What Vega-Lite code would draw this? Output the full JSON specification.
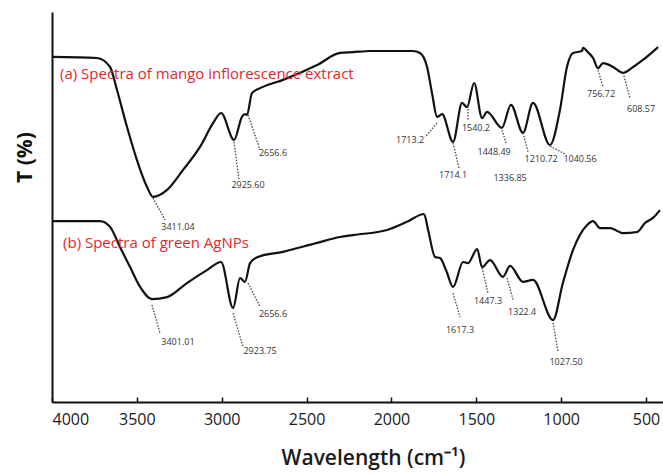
{
  "$schema": "https://vega.github.io/schema/vega-lite/v6.json",
  "width": 611,
  "height": 390,
  "autosize": {"type": "none"},
  "padding": {"left": 52, "top": 12, "right": 0, "bottom": 73},
  "background": "white",
  "config": {"view": {"stroke": null}, "font": "Open Sans"},
  "datasets": {
    "spectra": [
      {"series": "a", "w": 4000, "T": 88.5}, {"series": "a", "w": 3735, "T": 88.2}, {"series": "a", "w": 3658, "T": 85.9}, {"series": "a", "w": 3617, "T": 80.0}, {"series": "a", "w": 3558, "T": 70.5}, {"series": "a", "w": 3500, "T": 62.1}, {"series": "a", "w": 3440, "T": 55.1}, {"series": "a", "w": 3405, "T": 52.6}, {"series": "a", "w": 3322, "T": 54.4}, {"series": "a", "w": 3228, "T": 59.5}, {"series": "a", "w": 3128, "T": 65.4}, {"series": "a", "w": 3051, "T": 71.5}, {"series": "a", "w": 3004, "T": 74.1}, {"series": "a", "w": 2927, "T": 67.2}, {"series": "a", "w": 2881, "T": 73.1}, {"series": "a", "w": 2863, "T": 73.8}, {"series": "a", "w": 2851, "T": 73.6}, {"series": "a", "w": 2822, "T": 79.2}, {"series": "a", "w": 2757, "T": 80.8}, {"series": "a", "w": 2639, "T": 82.6}, {"series": "a", "w": 2438, "T": 86.4}, {"series": "a", "w": 2303, "T": 89.5}, {"series": "a", "w": 2226, "T": 89.7}, {"series": "a", "w": 2126, "T": 90.0}, {"series": "a", "w": 1873, "T": 90.0}, {"series": "a", "w": 1832, "T": 89.5}, {"series": "a", "w": 1790, "T": 85.9}, {"series": "a", "w": 1761, "T": 79.2}, {"series": "a", "w": 1731, "T": 73.1}, {"series": "a", "w": 1702, "T": 73.8}, {"series": "a", "w": 1637, "T": 66.7}, {"series": "a", "w": 1584, "T": 76.7}, {"series": "a", "w": 1555, "T": 75.6}, {"series": "a", "w": 1513, "T": 81.8}, {"series": "a", "w": 1466, "T": 72.8}, {"series": "a", "w": 1437, "T": 74.4}, {"series": "a", "w": 1349, "T": 70.3}, {"series": "a", "w": 1296, "T": 76.2}, {"series": "a", "w": 1225, "T": 69.0}, {"series": "a", "w": 1166, "T": 76.7}, {"series": "a", "w": 1066, "T": 65.9}, {"series": "a", "w": 1007, "T": 74.9}, {"series": "a", "w": 966, "T": 85.9}, {"series": "a", "w": 930, "T": 89.5}, {"series": "a", "w": 877, "T": 90.0}, {"series": "a", "w": 871, "T": 90.8}, {"series": "a", "w": 842, "T": 89.7}, {"series": "a", "w": 812, "T": 88.2}, {"series": "a", "w": 783, "T": 85.6}, {"series": "a", "w": 753, "T": 86.9}, {"series": "a", "w": 694, "T": 85.9}, {"series": "a", "w": 635, "T": 84.4}, {"series": "a", "w": 576, "T": 85.9}, {"series": "a", "w": 518, "T": 87.7}, {"series": "a", "w": 429, "T": 91.0},
      {"series": "b", "w": 4000, "T": 46.4}, {"series": "b", "w": 3717, "T": 46.4}, {"series": "b", "w": 3658, "T": 44.9}, {"series": "b", "w": 3599, "T": 39.7}, {"series": "b", "w": 3540, "T": 34.6}, {"series": "b", "w": 3481, "T": 29.5}, {"series": "b", "w": 3411, "T": 26.4}, {"series": "b", "w": 3322, "T": 26.9}, {"series": "b", "w": 3205, "T": 30.5}, {"series": "b", "w": 3087, "T": 33.8}, {"series": "b", "w": 3004, "T": 35.9}, {"series": "b", "w": 2933, "T": 24.1}, {"series": "b", "w": 2892, "T": 31.8}, {"series": "b", "w": 2863, "T": 30.8}, {"series": "b", "w": 2833, "T": 35.6}, {"series": "b", "w": 2786, "T": 37.2}, {"series": "b", "w": 2639, "T": 38.5}, {"series": "b", "w": 2438, "T": 40.8}, {"series": "b", "w": 2303, "T": 42.3}, {"series": "b", "w": 2226, "T": 42.8}, {"series": "b", "w": 2026, "T": 44.1}, {"series": "b", "w": 1908, "T": 46.2}, {"series": "b", "w": 1808, "T": 48.2}, {"series": "b", "w": 1784, "T": 44.1}, {"series": "b", "w": 1743, "T": 37.2}, {"series": "b", "w": 1714, "T": 36.9}, {"series": "b", "w": 1678, "T": 33.8}, {"series": "b", "w": 1637, "T": 29.5}, {"series": "b", "w": 1578, "T": 35.9}, {"series": "b", "w": 1549, "T": 35.6}, {"series": "b", "w": 1495, "T": 39.2}, {"series": "b", "w": 1466, "T": 34.6}, {"series": "b", "w": 1419, "T": 36.4}, {"series": "b", "w": 1343, "T": 32.1}, {"series": "b", "w": 1301, "T": 34.9}, {"series": "b", "w": 1225, "T": 30.8}, {"series": "b", "w": 1166, "T": 31.3}, {"series": "b", "w": 1048, "T": 21.0}, {"series": "b", "w": 990, "T": 30.5}, {"series": "b", "w": 930, "T": 39.0}, {"series": "b", "w": 847, "T": 45.4}, {"series": "b", "w": 812, "T": 46.4}, {"series": "b", "w": 771, "T": 44.6}, {"series": "b", "w": 712, "T": 44.6}, {"series": "b", "w": 635, "T": 43.3}, {"series": "b", "w": 553, "T": 43.6}, {"series": "b", "w": 506, "T": 45.9}, {"series": "b", "w": 459, "T": 47.2}, {"series": "b", "w": 418, "T": 49.2}
    ],
    "peaks": [
      {"label": "3411.04", "w": 3258, "T": 44.9},
      {"label": "2925.60", "w": 2845, "T": 55.6},
      {"label": "2656.6", "w": 2698, "T": 63.8},
      {"label": "1713.2", "w": 1890, "T": 67.2},
      {"label": "1714.1", "w": 1637, "T": 58.2},
      {"label": "1540.2", "w": 1502, "T": 70.3},
      {"label": "1448.49", "w": 1395, "T": 64.1},
      {"label": "1336.85", "w": 1301, "T": 57.4},
      {"label": "1210.72", "w": 1118, "T": 62.3},
      {"label": "1040.56", "w": 889, "T": 62.3},
      {"label": "756.72", "w": 765, "T": 79.0},
      {"label": "608.57", "w": 529, "T": 75.1},
      {"label": "3401.01", "w": 3258, "T": 15.4},
      {"label": "2923.75", "w": 2774, "T": 13.1},
      {"label": "2656.6", "w": 2698, "T": 22.6},
      {"label": "1617.3", "w": 1596, "T": 18.5},
      {"label": "1447.3", "w": 1431, "T": 25.9},
      {"label": "1322.4", "w": 1230, "T": 23.1},
      {"label": "1027.50", "w": 971, "T": 10.3}
    ],
    "leaders": [
      {"w1": 3405, "T1": 52.3, "w2": 3334, "T2": 46.7},
      {"w1": 2928, "T1": 66.7, "w2": 2898, "T2": 56.9},
      {"w1": 2845, "T1": 73.6, "w2": 2774, "T2": 64.6},
      {"w1": 1731, "T1": 71.5, "w2": 1802, "T2": 67.9},
      {"w1": 1637, "T1": 66.4, "w2": 1602, "T2": 60.0},
      {"w1": 1549, "T1": 75.9, "w2": 1549, "T2": 72.3},
      {"w1": 1348, "T1": 69.7, "w2": 1325, "T2": 66.4},
      {"w1": 1225, "T1": 69.0, "w2": 1195, "T2": 64.1},
      {"w1": 1065, "T1": 65.6, "w2": 977, "T2": 63.6},
      {"w1": 783, "T1": 85.1, "w2": 753, "T2": 80.8},
      {"w1": 635, "T1": 84.4, "w2": 594, "T2": 77.9},
      {"w1": 3411, "T1": 24.9, "w2": 3364, "T2": 17.7},
      {"w1": 2933, "T1": 22.8, "w2": 2874, "T2": 14.1},
      {"w1": 2845, "T1": 30.5, "w2": 2774, "T2": 24.4},
      {"w1": 1637, "T1": 27.9, "w2": 1596, "T2": 21.8},
      {"w1": 1466, "T1": 34.4, "w2": 1431, "T2": 27.9},
      {"w1": 1319, "T1": 31.8, "w2": 1283, "T2": 26.2},
      {"w1": 1048, "T1": 20.3, "w2": 1018, "T2": 12.8}
    ],
    "captions": [
      {"label": "(a) Spectra of mango inflorescence extract", "w": 3953, "T": 84.1},
      {"label": "(b) Spectra of green AgNPs", "w": 3935, "T": 40.8}
    ]
  },
  "layer": [
    {
      "data": {"name": "spectra"},
      "mark": {"type": "line", "color": "#111111", "strokeWidth": 2.2, "interpolate": "monotone"},
      "encoding": {
        "x": {
          "field": "w", "type": "quantitative",
          "scale": {"domain": [400, 4000], "reverse": true, "nice": false, "zero": false},
          "axis": {
            "title": "Wavelength (cm⁻¹)",
            "values": [4000, 3500, 3000, 2500, 2000, 1500, 1000, 500],
            "format": "d", "grid": false,
            "domainColor": "#111111", "domainWidth": 2,
            "tickColor": "#111111", "tickWidth": 1.5, "tickSize": -5,
            "labelFontSize": 16, "labelColor": "#1a1a1a", "labelPadding": 14, "labelFontWeight": 500,
            "titleFontSize": 21, "titleFontWeight": 600, "titleColor": "#1a1a1a",
            "titleX": 321, "titleY": 56, "titleBaseline": "middle", "titleAlign": "center"
          }
        },
        "y": {
          "field": "T", "type": "quantitative",
          "scale": {"domain": [0, 100], "nice": false},
          "axis": {
            "title": "T (%)", "ticks": false, "labels": false, "grid": false,
            "domainColor": "#111111", "domainWidth": 2,
            "titleFontSize": 21, "titleFontWeight": "bold", "titleColor": "#111111",
            "titleX": -27, "titleY": 145, "titleBaseline": "middle", "titleAlign": "center", "titleAngle": -90
          }
        },
        "detail": {"field": "series", "type": "nominal"}
      }
    },
    {
      "data": {"name": "leaders"},
      "mark": {"type": "rule", "color": "#444444", "strokeWidth": 1.3, "strokeDash": [1.5, 1.5]},
      "encoding": {
        "x": {"field": "w1", "type": "quantitative"},
        "x2": {"field": "w2"},
        "y": {"field": "T1", "type": "quantitative"},
        "y2": {"field": "T2"}
      }
    },
    {
      "data": {"name": "peaks"},
      "mark": {"type": "text", "fontSize": 9, "color": "#333333", "align": "center", "baseline": "middle"},
      "encoding": {
        "x": {"field": "w", "type": "quantitative"},
        "y": {"field": "T", "type": "quantitative"},
        "text": {"field": "label"}
      }
    },
    {
      "data": {"name": "captions"},
      "mark": {"type": "text", "fontSize": 15, "color": "#e3262e", "align": "left", "baseline": "middle"},
      "encoding": {
        "x": {"field": "w", "type": "quantitative"},
        "y": {"field": "T", "type": "quantitative"},
        "text": {"field": "label"}
      }
    }
  ]
}
